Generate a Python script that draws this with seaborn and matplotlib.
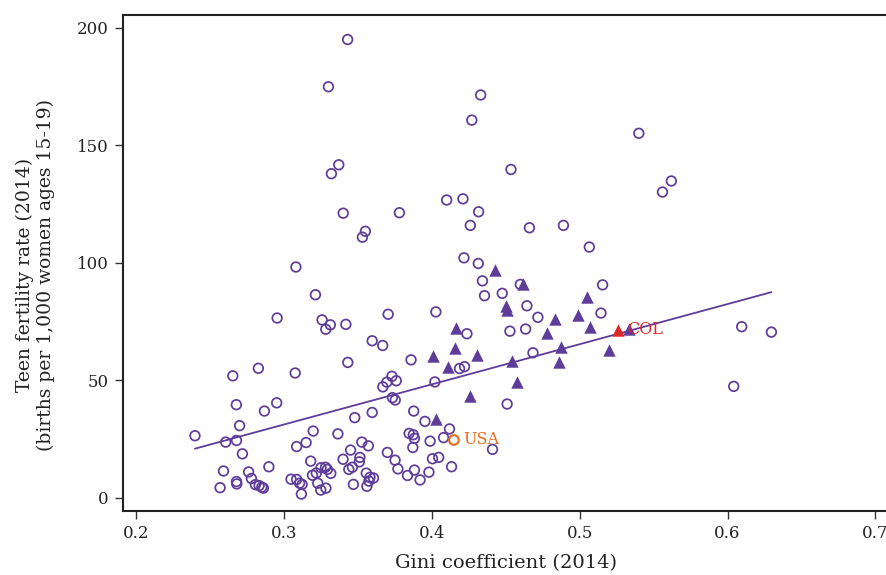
import numpy as np
import pandas as pd
import matplotlib
matplotlib.use("Agg")
import matplotlib.pyplot as plt
import seaborn as sns

# ---- data ----
# other countries (hollow circles)
circle_gini = [0.343, 0.330, 0.433, 0.427, 0.540, 0.4535, 0.337, 0.332, 0.562, 0.556,
               0.410, 0.421, 0.340, 0.378, 0.4316, 0.426, 0.466, 0.489, 0.355, 0.353,
               0.5065, 0.4217, 0.4314, 0.308, 0.4342, 0.4356, 0.4476, 0.4598, 0.5155, 0.3212,
               0.4643, 0.4717, 0.5144, 0.2953, 0.3257, 0.3313, 0.3282, 0.3418, 0.3704, 0.4027,
               0.4237, 0.4528, 0.4634, 0.3596, 0.3667, 0.4684, 0.3431, 0.3859, 0.2826, 0.2653,
               0.3075, 0.4187, 0.4221, 0.3730, 0.3759, 0.3695, 0.3668, 0.4020, 0.3733, 0.3752,
               0.4509, 0.6096, 0.6297, 0.6042, 0.2677, 0.2950, 0.2867, 0.2699, 0.2397, 0.2605,
               0.2678, 0.3197, 0.3364, 0.3085, 0.3149, 0.2718, 0.3180, 0.2897, 0.3399, 0.2590,
               0.2760, 0.2779, 0.2678, 0.2680, 0.2567, 0.2806, 0.2831, 0.2849, 0.2860, 0.3047,
               0.3085, 0.3105, 0.3122, 0.3117, 0.3192, 0.3218, 0.3250, 0.3280, 0.3293, 0.3316,
               0.3228, 0.3248, 0.3283, 0.3450, 0.3438, 0.3462, 0.3478, 0.3596, 0.3526, 0.3570,
               0.3513, 0.3509, 0.3556, 0.3581, 0.3605, 0.3574, 0.3560, 0.3469, 0.3699, 0.3751,
               0.3770, 0.3835, 0.3882, 0.3920, 0.3980, 0.4004, 0.4046, 0.4133, 0.3877, 0.3953,
               0.3846, 0.3874, 0.3882, 0.3871, 0.3988, 0.4079, 0.4119, 0.4410]
circle_teen = [195.0, 174.9, 171.4, 160.7, 155.1, 139.7, 141.7, 137.9, 134.8, 130.1,
               126.7, 127.2, 121.1, 121.3, 121.7, 115.9, 114.9, 115.9, 113.4, 110.9,
               106.7, 102.1, 99.7, 98.2, 92.3, 86.0, 87.0, 90.8, 90.6, 86.4,
               81.7, 76.8, 78.6, 76.5, 75.7, 73.6, 71.7, 73.8, 78.1, 79.1,
               69.8, 70.9, 71.8, 66.8, 64.8, 61.7, 57.6, 58.7, 55.1, 51.9,
               53.1, 55.0, 55.8, 51.7, 49.8, 49.2, 47.2, 49.3, 42.6, 41.6,
               39.9, 72.8, 70.5, 47.4, 39.6, 40.4, 36.9, 30.7, 26.4, 23.7,
               24.4, 28.4, 27.2, 21.8, 23.5, 18.7, 15.6, 13.2, 16.4, 11.4,
               11.0, 8.2, 6.9, 5.9, 4.3, 5.6, 5.2, 4.5, 4.1, 7.9,
               7.8, 6.2, 5.7, 1.6, 9.6, 10.5, 12.8, 13.0, 12.1, 10.4,
               6.2, 3.3, 4.1, 20.3, 12.1, 13.0, 34.1, 36.3, 23.7, 22.1,
               17.2, 15.3, 10.5, 8.7, 8.4, 7.1, 4.9, 5.7, 19.3, 16.0,
               12.3, 9.5, 11.8, 7.6, 10.9, 16.6, 17.2, 13.2, 36.9, 32.5,
               27.4, 26.8, 25.3, 21.4, 24.1, 25.6, 29.3, 20.6]

# Latin American countries (filled triangles)
tri_gini = [0.443, 0.4616, 0.4499, 0.4510, 0.4830, 0.4779, 0.5049, 0.4990, 0.5072, 0.5331,
            0.4873, 0.5198, 0.4544, 0.4860, 0.4576, 0.4256, 0.4160, 0.4158, 0.4010, 0.4306,
            0.4108, 0.4028]
tri_teen = [96.9, 90.9, 81.7, 79.9, 76.0, 70.2, 85.4, 77.7, 72.6, 71.8,
            64.3, 62.7, 58.2, 57.7, 49.3, 43.4, 72.3, 63.6, 60.3, 60.6,
            55.6, 33.5]

usa_gini, usa_teen = [0.4149], [24.6]
col_gini, col_teen = [0.5259], [71.4]

# fitted line as drawn in the reference (end points)
fit_gini = [0.2397, 0.6297]
fit_teen = [20.9, 87.5]

x_ticks = [0.2, 0.3, 0.4, 0.5, 0.6, 0.7]
x_tick_labels = ["0.2", "0.3", "0.4", "0.5", "0.6", "0.7"]
y_ticks = [0, 50, 100, 150, 200]

PURPLE = "#5e3c99"
ORANGE = "#e66a1a"
RED = "#dc2a2a"
TEXT = "#222222"

sns.set_style("ticks")
plt.rcParams["font.family"] = ["DejaVu Serif"]

fig = plt.figure(figsize=(8.86, 5.75), dpi=100)
ax = fig.add_axes([0.1388, 0.1118, 0.882, 0.862])

sns.lineplot(x=fit_gini, y=fit_teen, color=PURPLE, lw=1.3, ax=ax, zorder=2)

sns.scatterplot(x=circle_gini, y=circle_teen, marker="o", s=48,
                facecolors="none", edgecolor=PURPLE, linewidth=1.25, ax=ax, zorder=3)
sns.scatterplot(x=tri_gini, y=tri_teen, marker="^", s=80,
                color=PURPLE, edgecolor=PURPLE, linewidth=0, ax=ax, zorder=3)
sns.scatterplot(x=usa_gini, y=usa_teen, marker="o", s=48,
                facecolors="none", edgecolor=ORANGE, linewidth=1.5, ax=ax, zorder=4)
sns.scatterplot(x=col_gini, y=col_teen, marker="^", s=80,
                color=RED, edgecolor=RED, linewidth=0, ax=ax, zorder=4)

ax.annotate("USA", (usa_gini[0], usa_teen[0]), xytext=(6.5, 0), textcoords="offset points",
            va="center", ha="left", color=ORANGE, fontsize=11.5)
ax.annotate("COL", (col_gini[0], col_teen[0]), xytext=(6.5, 0), textcoords="offset points",
            va="center", ha="left", color=RED, fontsize=11.5)

ax.set_xlim(0.191, 0.7197)
ax.set_ylim(-5.5, 205.4)
ax.set_xticks(x_ticks)
ax.set_xticklabels(x_tick_labels)
ax.set_yticks(y_ticks)
ax.tick_params(axis="both", direction="out", length=5.8, width=1.0,
               labelsize=12, pad=4.5, color="#333333", labelcolor=TEXT)
for side in ["left", "bottom", "top", "right"]:
    ax.spines[side].set_linewidth(1.5)
    ax.spines[side].set_color(TEXT)

ax.set_xlabel("Gini coefficient (2014)", fontsize=14, color=TEXT)
ax.xaxis.set_label_coords(0.490, -0.088)
ax.set_ylabel("Teen fertility rate (2014)\n(births per 1,000 women ages 15-19)",
              fontsize=13.5, color=TEXT, linespacing=1.2)
ax.yaxis.set_label_coords(-0.087, 0.475)

fig.savefig("out.png", dpi=100)
